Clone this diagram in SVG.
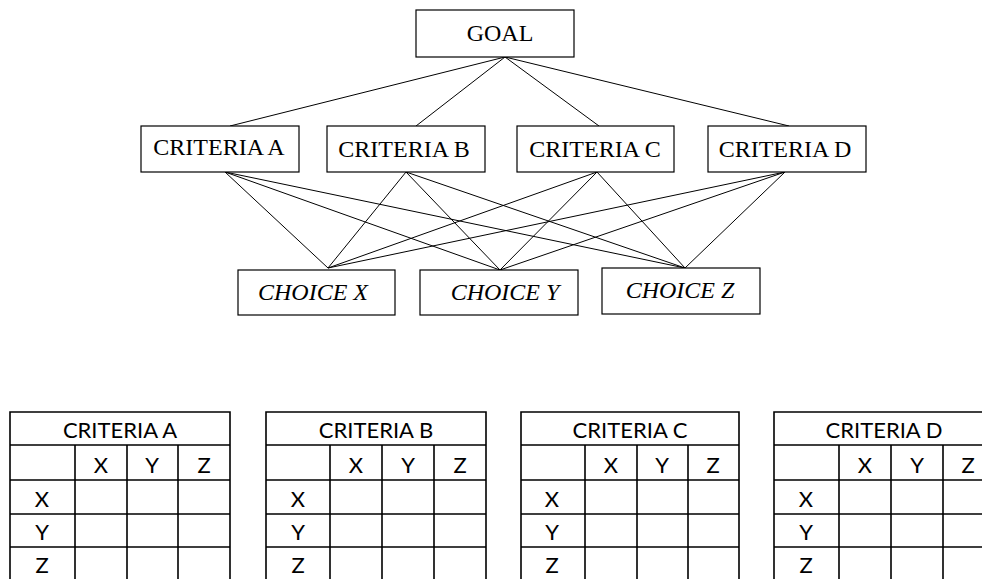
<svg xmlns="http://www.w3.org/2000/svg" width="982" height="579" viewBox="0 0 982 579">
<style>
.box{fill:#fff;stroke:#000;stroke-width:1.2}
.lbl{font-family:"Liberation Serif","Times New Roman",serif;font-size:24px;fill:#000;text-anchor:middle}
.it{font-style:italic}
.con line{stroke:#000;stroke-width:1}
.tb{fill:none;stroke:#000;stroke-width:1.6}
.tt{font-family:Lato,"Liberation Sans",sans-serif;font-size:22px;fill:#000;text-anchor:middle}
</style>
<rect width="982" height="579" fill="#fff"/>
<g id="connectors" class="con">
<line x1="505" y1="57" x2="230" y2="126"/>
<line x1="505" y1="57" x2="416" y2="126"/>
<line x1="505" y1="57" x2="599" y2="126"/>
<line x1="505" y1="57" x2="789" y2="126"/>
<line x1="225" y1="172" x2="328" y2="268"/>
<line x1="225" y1="172" x2="500" y2="270"/>
<line x1="225" y1="172" x2="685" y2="268"/>
<line x1="406" y1="172" x2="328" y2="268"/>
<line x1="406" y1="172" x2="500" y2="270"/>
<line x1="406" y1="172" x2="685" y2="268"/>
<line x1="597" y1="172" x2="328" y2="268"/>
<line x1="597" y1="172" x2="500" y2="270"/>
<line x1="597" y1="172" x2="685" y2="268"/>
<line x1="785" y1="172" x2="328" y2="268"/>
<line x1="785" y1="172" x2="500" y2="270"/>
<line x1="785" y1="172" x2="685" y2="268"/>
</g>
<g id="goal"><rect class="box" x="416" y="10" width="158" height="47"/><text class="lbl" x="500" y="41">GOAL</text></g>
<g id="criteria-a"><rect class="box" x="141" y="126" width="158" height="46"/><text class="lbl" x="219" y="155">CRITERIA A</text></g>
<g id="criteria-b"><rect class="box" x="327" y="126" width="158" height="46"/><text class="lbl" x="404" y="157">CRITERIA B</text></g>
<g id="criteria-c"><rect class="box" x="517" y="126" width="157" height="46"/><text class="lbl" x="595" y="157">CRITERIA C</text></g>
<g id="criteria-d"><rect class="box" x="708" y="126" width="158" height="46"/><text class="lbl" x="785" y="157">CRITERIA D</text></g>
<g id="choice-x"><rect class="box" x="238" y="270" width="157" height="45"/><text class="lbl it" x="313" y="300">CHOICE X</text></g>
<g id="choice-y"><rect class="box" x="420" y="270" width="158" height="45"/><text class="lbl it" x="505" y="300">CHOICE Y</text></g>
<g id="choice-z"><rect class="box" x="602" y="268" width="158" height="46"/><text class="lbl it" x="680" y="298">CHOICE Z</text></g>

<g id="table-a">
<path class="tb" d="M10,580V412H230V580M10,445H230M10,480H230M10,514H230M10,547H230M75,445V580M127,445V580M178,445V580"/>
<text class="tt" x="120" y="438">CRITERIA A</text>
<text class="tt" x="101" y="473">X</text><text class="tt" x="152" y="473">Y</text><text class="tt" x="204" y="473">Z</text>
<text class="tt" x="42" y="507">X</text><text class="tt" x="42" y="540">Y</text><text class="tt" x="42" y="573">Z</text>
</g>
<g id="table-b">
<path class="tb" d="M266,580V412H486V580M266,445H486M266,480H486M266,514H486M266,547H486M330,445V580M382,445V580M434,445V580"/>
<text class="tt" x="376" y="438">CRITERIA B</text>
<text class="tt" x="356" y="473">X</text><text class="tt" x="408" y="473">Y</text><text class="tt" x="460" y="473">Z</text>
<text class="tt" x="298" y="507">X</text><text class="tt" x="298" y="540">Y</text><text class="tt" x="298" y="573">Z</text>
</g>
<g id="table-c">
<path class="tb" d="M521,580V412H739V580M521,445H739M521,480H739M521,514H739M521,547H739M585,445V580M637,445V580M688,445V580"/>
<text class="tt" x="630" y="438">CRITERIA C</text>
<text class="tt" x="611" y="473">X</text><text class="tt" x="662" y="473">Y</text><text class="tt" x="713" y="473">Z</text>
<text class="tt" x="552" y="507">X</text><text class="tt" x="552" y="540">Y</text><text class="tt" x="552" y="573">Z</text>
</g>
<g id="table-d">
<path class="tb" d="M774,580V412H990M774,445H990M774,480H990M774,514H990M774,547H990M839,445V580M891,445V580M943,445V580"/>
<text class="tt" x="884" y="438">CRITERIA D</text>
<text class="tt" x="865" y="473">X</text><text class="tt" x="917" y="473">Y</text><text class="tt" x="968" y="473">Z</text>
<text class="tt" x="806" y="507">X</text><text class="tt" x="806" y="540">Y</text><text class="tt" x="806" y="573">Z</text>
</g>
</svg>
